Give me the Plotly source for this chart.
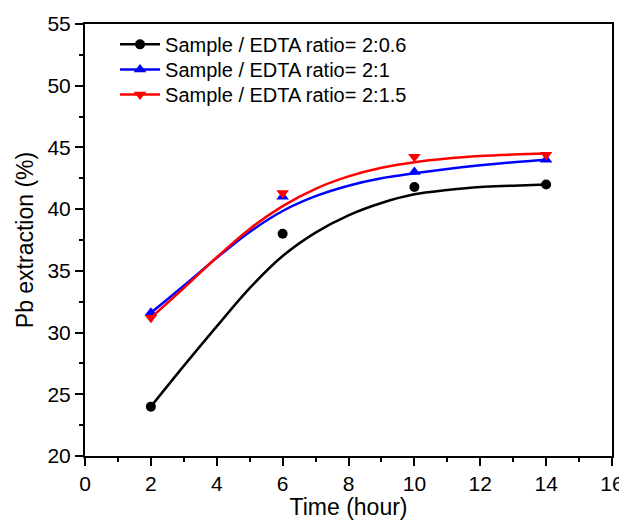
import plotly.graph_objects as go

# measured points
time_h = [2, 6, 10, 14]
pb_06 = [24.0, 38.0, 41.8, 42.0]
pb_1 = [31.6, 41.0, 43.0, 44.0]
pb_15 = [31.2, 41.3, 44.25, 44.4]

# fitted curves at each hour
fit_t = [2, 3, 4, 5, 6, 7, 8, 9, 10, 11, 12, 13, 14]
fit_06 = [24.0, 27.3, 30.5, 33.6, 36.2, 38.1, 39.5, 40.5, 41.2, 41.55, 41.8, 41.9, 42.0]
fit_1 = [31.6, 33.8, 36.05, 38.15, 39.85, 41.05, 41.9, 42.5, 42.9, 43.25, 43.55, 43.8, 44.0]
fit_15 = [31.2, 33.6, 36.1, 38.4, 40.25, 41.65, 42.65, 43.35, 43.8, 44.1, 44.3, 44.42, 44.5]

names = ["Sample / EDTA ratio= 2:0.6", "Sample / EDTA ratio= 2:1", "Sample / EDTA ratio= 2:1.5"]
colors = ["#000000", "#0000ff", "#ff0000"]
symbols = ["circle", "triangle-up", "triangle-down"]
msize = [10, 11, 11]
legends = ["legend", "legend2", "legend3"]

fig = go.Figure()
for name, col, sym, ms, pts, fit, lg in zip(names, colors, symbols, msize,
                                            [pb_06, pb_1, pb_15], [fit_06, fit_1, fit_15], legends):
    fig.add_trace(go.Scatter(x=fit_t, y=fit, mode="lines", line=dict(color=col, width=2.5, shape="spline"),
                             showlegend=False, hoverinfo="skip"))
    fig.add_trace(go.Scatter(x=time_h, y=pts, mode="markers", marker=dict(color=col, symbol=sym, size=ms),
                             showlegend=False))
    # legend entry only
    fig.add_trace(go.Scatter(x=[None], y=[None], mode="lines+markers", name=name, legend=lg,
                             line=dict(color=col, width=2.5), marker=dict(color=col, symbol=sym, size=ms)))

axis_common = dict(showgrid=False, zeroline=False, showline=True, linecolor="black", linewidth=2,
                   mirror=True, ticks="outside", ticklen=8, tickwidth=2, tickcolor="black",
                   tickfont=dict(size=21, color="black"), automargin=False)

fig.update_xaxes(range=[0, 16], dtick=2, tick0=0,
                 minor=dict(dtick=1, ticks="outside", ticklen=4, tickwidth=2, tickcolor="black"),
                 title=dict(text="Time (hour)", font=dict(size=23, color="black"), standoff=4),
                 **axis_common)
fig.update_yaxes(range=[20, 55], dtick=5, tick0=20,
                 minor=dict(dtick=2.5, ticks="outside", ticklen=4, tickwidth=2, tickcolor="black"),
                 title=dict(text="Pb extraction (%)", font=dict(size=23, color="black"), standoff=7),
                 **axis_common)

leg_style = dict(x=0.057, xanchor="left", yanchor="top", bgcolor="rgba(0,0,0,0)",
                 font=dict(size=20, color="black"), itemwidth=40)

# page body adds an 8px offset, so the figure is a bit smaller than the window
fig.update_layout(
    width=619, height=512,
    margin=dict(l=77, r=15, t=16, b=64),
    plot_bgcolor="white", paper_bgcolor="white",
    font=dict(family="Liberation Sans, Arial, sans-serif", color="black"),
    legend=dict(y=0.998, **leg_style),
    legend2=dict(y=0.94, **leg_style),
    legend3=dict(y=0.882, **leg_style),
)

fig.write_html("out.html")
